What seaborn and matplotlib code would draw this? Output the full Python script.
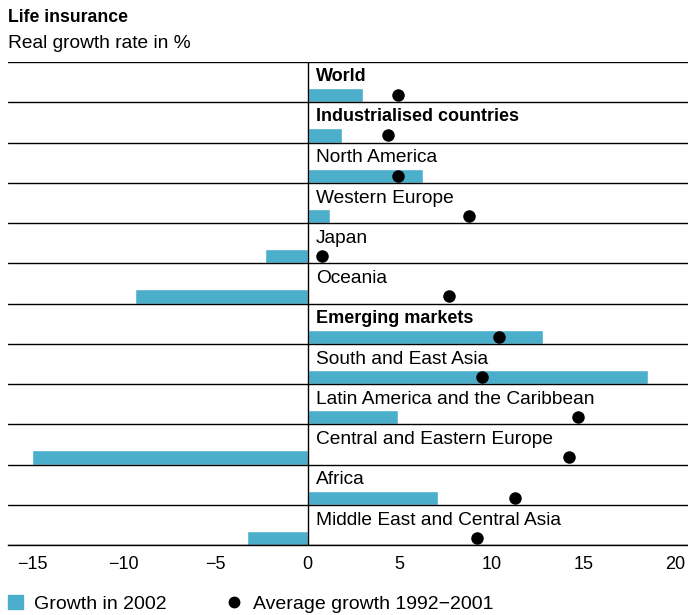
import matplotlib
matplotlib.use('Agg')
import matplotlib.pyplot as plt
import seaborn as sns
from matplotlib.lines import Line2D
from matplotlib.patches import Patch

regions = ['World', 'Industrialised countries', 'North America', 'Western Europe',
           'Japan', 'Oceania', 'Emerging markets', 'South and East Asia',
           'Latin America and the Caribbean', 'Central and Eastern Europe',
           'Africa', 'Middle East and Central Asia']
growth_2002 = [3.0, 1.9, 6.3, 1.2, -2.3, -9.4, 12.8, 18.5, 4.9, -15.0, 7.1, -3.3]
avg_1992_2001 = [4.9, 4.4, 4.9, 8.8, 0.8, 7.7, 10.4, 9.5, 14.7, 14.2, 11.3, 9.2]
bold_rows = ['World', 'Industrialised countries', 'Emerging markets']

bar_color = '#4BAFCB'

sns.set_style('white')
plt.rcParams['font.family'] = ['Liberation Sans', 'DejaVu Sans']
plt.rcParams['text.color'] = 'black'
plt.rcParams['xtick.color'] = 'black'

fig = plt.figure(figsize=(6.88, 6.15), dpi=100)
ax = fig.add_axes([8 / 688, 1 - 545 / 615, 680 / 688, 483 / 615])

sns.barplot(x=growth_2002, y=regions, orient='h', color=bar_color,
            width=0.35, saturation=1, ax=ax)
sns.stripplot(x=avg_1992_2001, y=regions, orient='h', color='black',
              jitter=False, size=9, ax=ax, zorder=5)

n = len(regions)
ax.set_ylim(n - 1 + 0.175, -0.825)
ax.set_xlim(-16.3, 20.7)

# row separators
for k in range(-1, n):
    ax.axhline(k + 0.175, color='black', lw=1.0, zorder=1)
ax.axvline(0, color='black', lw=1.0, zorder=3)

for i, name in enumerate(regions):
    if name in bold_rows:
        ax.text(0.45, i - 0.46, name, fontsize=13, va='center', ha='left',
                fontweight='bold', zorder=6)
    else:
        ax.text(0.45, i - 0.44, name, fontsize=13.8, va='center', ha='left',
                zorder=6)

ax.set_yticks([])
ax.set_ylabel('')
ax.set_xticks([-15, -10, -5, 0, 5, 10, 15, 20])
ax.set_xticklabels(['\u221215', '\u221210', '\u22125', '0', '5', '10', '15', '20'])
ax.tick_params(axis='x', length=0, labelsize=13, pad=8)
for s in ['top', 'right', 'left']:
    ax.spines[s].set_visible(False)
ax.spines['bottom'].set_color('black')
ax.spines['bottom'].set_linewidth(1.0)

fig.text(8 / 688, 1 - 17 / 615, 'Life insurance', fontsize=12.7,
         fontweight='bold', va='center', ha='left')
fig.text(8 / 688, 1 - 43 / 615, 'Real growth rate in %', fontsize=13.8,
         va='center', ha='left')

handles = [Patch(color=bar_color, label='Growth in 2002'),
           Line2D([], [], marker='o', color='black', ls='', markersize=7.5,
                  label='Average growth 1992\u22122001')]
fig.legend(handles=handles, loc='center left', bbox_to_anchor=(8 / 688, 1 - 604 / 615),
           ncol=2, frameon=False, fontsize=14, handlelength=0.75, handleheight=0.75,
           handletextpad=0.6, columnspacing=3.1, borderaxespad=0, borderpad=0)

fig.savefig('out.png', dpi=100)
